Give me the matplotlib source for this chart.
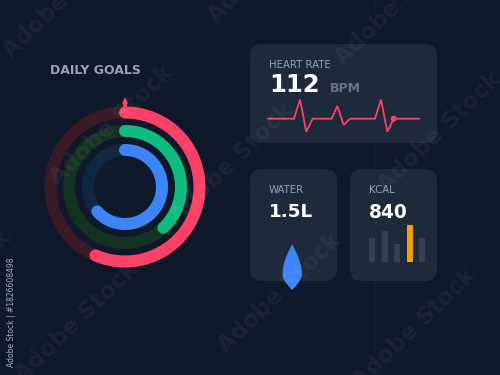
# Daily goals dashboard - rings, heart rate, water and kcal cards
import numpy as np
import matplotlib
matplotlib.use('Agg')
import matplotlib.pyplot as plt
from matplotlib.patches import FancyBboxPatch, Circle, Polygon

# ── Data ─────────────────────────────────────────────────────
ring_names  = ['move', 'exercise', 'stand']
ring_values = [0.565, 0.38, 0.635]     # fraction of the full circle

ecg_x = [0, 25.7, 31.7, 38, 44.4, 63.4, 69, 75.4, 81.7, 106.7, 112.7, 119, 125.4, 151]
ecg_y = [0, 0, 19.3, -13, 0, 0, 12.7, -6.3, 0, 0, 19.3, -13, 0, 0]
ecg_dot = (125.4, 0)

kcal_bars = [40, 50, 30, 60, 40]

title_text = 'DAILY GOALS'
hr_label, hr_value, hr_unit = 'HEART RATE', '112', 'BPM'
water_label, water_value = 'WATER', '1.5L'
kcal_label, kcal_value = 'KCAL', '840'

# ── Colours ──────────────────────────────────────────────────
BG     = '#0f172a'
CARD   = '#1e293b'
RED    = '#fb4266'
GREEN  = '#10bb80'
BLUE   = '#3d84f7'
ORANGE = '#f59e0b'
BAR    = '#334155'
ring_colors = [RED, GREEN, BLUE]
track_colors = ['#3a1b25', '#143224', '#10283f']
ring_radius = [74.5, 56, 37]

# Axes in pixel coordinates of the 500x375 picture
fig = plt.figure(figsize=(5, 3.75), dpi=100, facecolor=BG)
ax = fig.add_axes([0, 0, 1, 1])
ax.set_xlim(0, 500)
ax.set_ylim(375, 0)
ax.axis('off')
PX = 72 / 100  # one pixel in points

# faint background grid
for gx in [125, 250, 375]:
    ax.axvline(gx, color='#1e293b', lw=0.5, alpha=0.5, zorder=0)
for gy in [62.5, 187.5, 312.5]:
    ax.axhline(gy, color='#1e293b', lw=0.5, alpha=0.5, zorder=0)

# ── Rings ────────────────────────────────────────────────────
cx, cy = 125, 187
for val, col, track, r in zip(ring_values, ring_colors, track_colors, ring_radius):
    th = np.linspace(0, 2 * np.pi, 300)
    ax.plot(cx + r * np.sin(th), cy - r * np.cos(th), color=track, lw=12 * PX, zorder=2)
    th = np.linspace(0, 2 * np.pi * val, 300)
    ax.plot(cx + r * np.sin(th), cy - r * np.cos(th), color=col, lw=12 * PX,
            solid_capstyle='round', zorder=3)
ax.add_patch(Polygon([(125, 97.3), (127.6, 102.5), (126.2, 108), (123.8, 108), (122.4, 102.5)],
                     closed=True, fc=RED, ec='none', zorder=4))
ax.text(50, 71, title_text, color='#94a3b8', fontsize=9, fontweight='bold',
        va='center', ha='left')


def card(x0, y0, x1, y1):
    r = 12
    ax.add_patch(FancyBboxPatch((x0 + r, y0 + r), x1 - x0 - 2 * r, y1 - y0 - 2 * r,
                                boxstyle=f'round,pad={r},rounding_size={r}',
                                fc=CARD, ec='none', zorder=1))


# ── Heart rate card ──────────────────────────────────────────
card(250, 44, 437, 143)
ax.text(269, 65, hr_label, color='#94a3b8', fontsize=7.3, va='center')
ax.text(269, 85, hr_value, color='white', fontsize=17.5, fontweight='bold', va='center')
ax.text(330, 89, hr_unit, color='#64748b', fontsize=9, fontweight='bold', va='center')
ax.plot(268.3 + np.array(ecg_x), 118.7 - np.array(ecg_y), color=RED, lw=1.3,
        solid_joinstyle='miter', zorder=3)
ax.add_patch(Circle((268.3 + ecg_dot[0], 118.7 - ecg_dot[1]), 3, fc=RED, ec='none', zorder=4))

# ── Water card ───────────────────────────────────────────────
card(250, 169, 337, 281)
ax.text(269, 190, water_label, color='#94a3b8', fontsize=7.3, va='center')
ax.text(269, 212, water_value, color='white', fontsize=13.2, fontweight='bold', va='center')
# drop outline: long taper from the tip, widest low down, short point at the base
s = np.linspace(0, 1, 40)
top_y = 244 + 30 * s
top_w = 9.6 * np.sin(np.pi / 2 * s)
b = np.linspace(0, 1, 20)
bot_y = 274 + 16 * b
bot_w = 9.6 * np.cos(np.pi / 2 * b)
drop_y = np.r_[top_y, bot_y]
drop_w = np.r_[top_w, bot_w]
ax.fill(np.r_[292.2 - drop_w, (292.2 + drop_w)[::-1]], np.r_[drop_y, drop_y[::-1]],
        color=BLUE, lw=0, zorder=3)

# ── Kcal card ────────────────────────────────────────────────
card(350, 169, 437, 281)
ax.text(369, 190, kcal_label, color='#94a3b8', fontsize=7.3, va='center')
ax.text(369, 212, kcal_value, color='white', fontsize=13.4, fontweight='bold', va='center')
bar_x = 372 + 12.5 * np.arange(len(kcal_bars))
bar_cols = [ORANGE if v == max(kcal_bars) else BAR for v in kcal_bars]
ax.bar(bar_x, -np.array(kcal_bars) * 0.62, bottom=262.3, width=6, color=bar_cols, zorder=3)

# ── Stock watermark ──────────────────────────────────────────
mark_pos = [(65, -2), (112, 125), (397, 5), (270, -37), (440, 132), (232, 163),
            (77, 322), (280, 293), (415, 328), (-50, 290)]
for mx, my in mark_pos:
    ax.text(mx, my, 'Adobe Stock', color='white', alpha=0.055, fontsize=16.5, fontweight='bold',
            rotation=44, ha='center', va='center', zorder=6, clip_on=True)
ax.text(12, 367, 'Adobe Stock | #1826608498', color='#b8c0cc', alpha=0.9, fontsize=5.5,
        rotation=90, ha='center', va='bottom', zorder=6)

fig.savefig('out.png', dpi=100, facecolor=BG)
